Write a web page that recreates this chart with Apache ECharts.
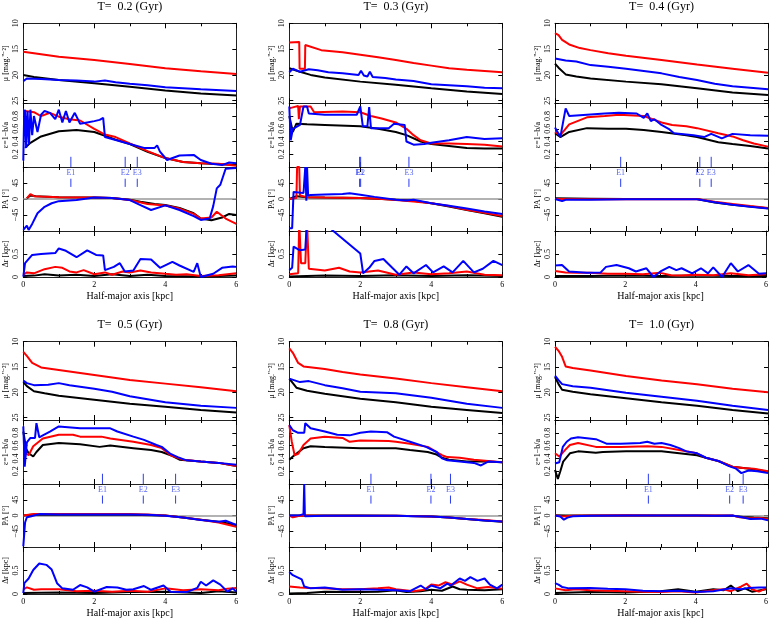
<!DOCTYPE html>
<html><head><meta charset="utf-8">
<script src="https://cdn.jsdelivr.net/npm/echarts/dist/echarts.min.js"></script>
<style>html,body{margin:0;padding:0;background:#fff}#c{width:771px;height:620px}</style>
</head><body><div id="c"></div>
<script>
// ---------------- DATA ----------------
const titles = ['T=  0.2 (Gyr)','T=  0.3 (Gyr)','T=  0.4 (Gyr)','T=  0.5 (Gyr)','T=  0.8 (Gyr)','T=  1.0 (Gyr)'];
const markerNames = ['E1','E2','E3'];
const xTickLabels = [0,2,4,6];

// T = 0.2
const mu02k = [[0,20.0],[0.3,20.4],[1,21.0],[2,21.6],[3,22.3],[4,23.0],[5,23.6],[6,24.0]];
const mu02r = [[0,15.5],[0.5,16.0],[1,16.5],[2,17.1],[3,17.9],[4,18.7],[5,19.3],[6,19.8]];
const mu02b = [[0,21.2],[0.1,20.7],[0.5,20.8],[1,21.0],[1.5,21.1],[2,21.3],[2.3,21.1],[2.6,21.4],[3,21.7],[3.5,22.0],[4,22.4],[4.5,22.6],[5,22.8],[6,23.1]];
const eps02k = [[0.05,0.3],[0.2,0.38],[0.5,0.48],[1,0.56],[1.5,0.58],[2,0.55],[2.3,0.49],[2.6,0.43],[3,0.36],[3.5,0.24],[4,0.14],[4.5,0.08],[5,0.06],[6,0.03]];
const eps02r = [[0.05,0.88],[0.3,0.86],[0.5,0.8],[0.75,0.85],[1,0.79],[1.3,0.75],[1.6,0.73],[2,0.6],[2.3,0.51],[2.6,0.47],[3,0.37],[3.5,0.25],[4,0.14],[4.5,0.08],[5,0.06],[5.5,0.05],[6,0.02]];
const eps02b = [[0,0.1],[0.02,0.7],[0.05,0.9],[0.08,0.3],[0.12,0.88],[0.16,0.35],[0.2,0.9],[0.25,0.5],[0.3,0.8],[0.4,0.55],[0.5,0.82],[0.6,0.88],[0.75,0.85],[0.9,0.75],[1.0,0.9],[1.1,0.7],[1.2,0.88],[1.3,0.7],[1.45,0.85],[1.6,0.68],[1.8,0.7],[2.0,0.72],[2.15,0.74],[2.25,0.77],[2.3,0.47],[2.5,0.44],[3,0.36],[3.4,0.3],[3.7,0.3],[3.77,0.34],[3.85,0.24],[4.05,0.11],[4.4,0.18],[4.8,0.19],[5.0,0.11],[5.3,0.05],[5.6,0.03],[5.8,0.07],[6,0.06]];
const pa02k = [[0.1,2],[0.2,10],[0.35,8],[1,5],[2,4],[2.5,3],[3,-2],[3.3,-8],[3.7,-14],[4,-17],[4.4,-25],[4.8,-40],[5,-55],[5.3,-60],[5.6,-52],[5.8,-42],[6,-45]];
const pa02r = [[0.1,2],[0.2,14],[0.3,8],[0.5,7],[1,5],[2,4],[2.5,3],[3,-3],[3.5,-14],[4,-18],[4.4,-27],[4.8,-42],[5,-55],[5.3,-52],[5.45,-36],[5.7,-55],[6,-70]];
const pa02b = [[0,-87],[0.1,-75],[0.15,-87],[0.25,-70],[0.4,-40],[0.6,-22],[0.8,-12],[1,-6],[1.5,-3],[2,4],[2.5,3],[3,-3],[3.3,-17],[3.6,-31],[4,-18],[4.4,-31],[4.8,-48],[5,-59],[5.25,-55],[5.35,-20],[5.45,30],[5.55,40],[5.7,85],[6,87]];
const dr02k = [[0,0.02],[0.3,0.03],[0.6,0.06],[1,0.03],[1.5,0.05],[2,0.02],[2.5,0.06],[3,0.02],[3.5,0.05],[4,0.02],[5,0.01],[6,0.03]];
const dr02r = [[0,0.05],[0.1,0.1],[0.3,0.08],[0.6,0.17],[0.9,0.22],[1.1,0.2],[1.3,0.12],[1.5,0.1],[1.7,0.15],[2,0.06],[2.3,0.1],[2.5,0.05],[2.8,0.12],[3,0.1],[3.3,0.14],[3.6,0.1],[4,0.07],[4.3,0.05],[4.6,0.06],[5,0.02],[5.5,0.04],[6,0.08]];
const dr02b = [[0,0.01],[0.05,0.3],[0.25,0.48],[0.5,0.5],[0.9,0.52],[1.0,0.62],[1.2,0.57],[1.5,0.43],[1.8,0.58],[2.05,0.48],[2.25,0.47],[2.3,0.15],[2.55,0.22],[2.72,0.3],[2.86,0.12],[3.1,0.14],[3.3,0.39],[3.6,0.38],[3.85,0.2],[4.2,0.33],[4.4,0.25],[4.8,0.11],[4.9,0.3],[5.0,0.0],[5.35,0.07],[5.6,0.2],[5.9,0.23],[6,0.22]];
const E02 = [1.34, 2.87, 3.21];

// T = 0.3
const mu03k = [[0,18.7],[0.3,19.4],[0.6,20.0],[1,20.5],[2,21.3],[3,21.9],[4,22.6],[5,23.2],[6,23.7]];
const mu03r = [[0,13.7],[0.28,13.6],[0.29,18.8],[0.44,18.8],[0.45,14.2],[0.9,15.2],[1.5,15.6],[2,16.1],[2.5,16.6],[3,17.1],[3.5,17.7],[4,18.2],[4.5,18.7],[5,19.0],[6,19.5]];
const mu03b = [[0,19.5],[0.1,18.8],[0.3,19.4],[0.55,18.9],[0.8,19.1],[1.1,19.5],[1.5,19.7],[1.95,20.0],[2.02,19.2],[2.1,20.1],[2.2,20.3],[2.27,19.4],[2.35,20.4],[2.7,20.6],[3,20.9],[3.5,21.2],[4,21.8],[4.5,22.0],[5,22.2],[5.5,22.5],[6,22.6]];
const eps03k = [[0,0.8],[0.1,0.55],[0.2,0.68],[0.5,0.67],[1,0.66],[2,0.64],[2.5,0.6],[3,0.55],[3.3,0.5],[3.7,0.4],[4,0.36],[4.5,0.33],[5,0.3],[5.5,0.29],[6,0.29]];
const eps03r = [[0,0.92],[0.05,0.95],[0.25,0.96],[0.27,0.75],[0.3,0.95],[0.6,0.95],[0.7,0.86],[1.5,0.87],[2,0.86],[2.3,0.8],[2.6,0.76],[3,0.7],[3.3,0.6],[3.5,0.5],[3.7,0.42],[4,0.37],[4.5,0.37],[5,0.36],[5.5,0.35],[6,0.32]];
const eps03b = [[0,0.95],[0.04,0.42],[0.1,0.6],[0.3,0.66],[0.4,0.95],[0.5,0.95],[0.55,0.84],[1,0.82],[1.9,0.82],[2,0.95],[2.07,0.64],[2.2,0.64],[2.25,0.94],[2.3,0.61],[2.8,0.61],[2.95,0.68],[3.25,0.66],[3.3,0.4],[3.5,0.35],[3.8,0.36],[4,0.38],[4.5,0.42],[5,0.47],[5.5,0.44],[6,0.45]];
const pa03k = [[0,0],[0.2,8],[0.5,5],[1,4],[2,3],[2.5,1],[3,-2],[3.5,-5],[4,-12],[4.5,-21],[5,-31],[5.5,-40],[6,-50]];
const pa03r = [[0,0],[0.2,3],[0.22,90],[0.28,90],[0.3,10],[0.5,5],[1,4],[2,3],[2.5,1],[3,-3],[3.5,-7],[4,-12],[4.5,-20],[5,-30],[5.5,-39],[6,-48]];
const pa03b = [[0,-82],[0.08,-82],[0.12,20],[0.4,17],[0.45,90],[0.48,-5],[0.5,90],[0.53,10],[0.6,11],[1,13],[1.5,14],[1.7,16],[2,12],[2.4,6],[3,-2],[3.3,-4],[3.5,-2],[4,-12],[4.5,-19],[5,-27],[5.5,-35],[6,-42]];
const dr03k = [[0,0.01],[1,0.03],[2,0.02],[3,0.04],[4,0.02],[5,0.04],[6,0.02]];
const dr03r = [[0,0.06],[0.25,0.08],[0.28,1.2],[0.33,0.3],[0.45,0.3],[0.5,1.2],[0.55,0.18],[1,0.14],[1.4,0.2],[1.7,0.12],[2,0.1],[2.5,0.14],[3,0.05],[3.5,0.1],[4,0.06],[4.5,0.08],[5,0.12],[5.5,0.05],[6,0.04]];
const dr03b = [[0,0.15],[0.08,0.2],[0.12,0.66],[0.3,0.58],[0.45,0.6],[0.5,0.62],[0.52,1.5],[0.8,1.3],[1.24,1.0],[2.0,0.51],[2.08,0.08],[2.25,0.2],[2.4,0.35],[2.65,0.39],[2.9,0.2],[3.1,0.05],[3.3,0.23],[3.5,0.08],[3.85,0.26],[4.05,0.1],[4.35,0.23],[4.6,0.1],[4.9,0.35],[5.2,0.1],[5.45,0.18],[5.75,0.35],[6,0.26]];
const E03 = [1.98, 2.01, 3.37];

// T = 0.4
const mu04k = [[0,17.8],[0.1,18.6],[0.3,19.9],[0.6,20.3],[1,20.7],[2,21.3],[3,21.8],[4,22.6],[5,23.4],[6,23.9]];
const mu04r = [[0,11.9],[0.1,12.3],[0.2,13.2],[0.4,14.1],[0.7,14.8],[1,15.2],[1.5,15.8],[2,16.3],[3,17.1],[4,18.0],[5,18.8],[6,19.6]];
const mu04b = [[0,16.8],[0.3,17.2],[0.6,17.4],[1,18.1],[1.5,18.4],[2,18.8],[3,19.7],[3.5,20.4],[4,21.0],[4.5,21.7],[5,22.2],[6,22.8]];
const eps04k = [[0,0.53],[0.15,0.47],[0.4,0.55],[0.9,0.61],[1.5,0.6],[2,0.6],[2.5,0.58],[3,0.55],[3.7,0.5],[4,0.47],[4.6,0.39],[5,0.36],[5.5,0.33],[6,0.29]];
const eps04r = [[0,0.55],[0.15,0.5],[0.4,0.67],[0.9,0.78],[1.4,0.8],[1.8,0.82],[2.5,0.8],[3,0.7],[3.3,0.66],[3.7,0.64],[4,0.61],[4.6,0.53],[5,0.48],[5.3,0.42],[5.6,0.37],[6,0.32]];
const eps04b = [[0,0.62],[0.15,0.47],[0.3,0.92],[0.4,0.8],[0.9,0.82],[1.4,0.84],[1.8,0.85],[2.3,0.84],[2.5,0.77],[2.6,0.84],[2.7,0.72],[2.8,0.75],[3,0.66],[3.2,0.6],[3.35,0.53],[3.9,0.5],[4.2,0.47],[4.4,0.52],[4.7,0.45],[5,0.52],[5.5,0.5],[6,0.49]];
const pa04k = [[0,2],[1,1],[2,0],[3,0],[4,0],[4.5,-10],[5,-16],[5.5,-21],[6,-26]];
const pa04r = [[0,0],[1,-1],[2,-1],[3,-1],[4,0],[4.5,-8],[5,-14],[5.5,-20],[6,-25]];
const pa04b = [[0,0],[0.1,-3],[0.2,-6],[0.3,-2],[1,-2],[2,-1],[3,-1],[4,-1],[4.5,-9],[5,-16],[5.5,-22],[6,-27]];
const dr04k = [[0,0.02],[1,0.02],[2,0.03],[3,0.02],[4,0.03],[5,0.02],[6,0.02]];
const dr04r = [[0,0.13],[0.3,0.1],[0.6,0.09],[1,0.09],[1.5,0.07],[2,0.07],[2.5,0.06],[3,0.09],[3.3,0.04],[3.6,0.03],[4,0.05],[4.5,0.04],[5,0.08],[5.5,0.04],[6,0.06]];
const dr04b = [[0,0.25],[0.2,0.26],[0.4,0.12],[0.9,0.09],[1.3,0.1],[1.45,0.22],[1.75,0.26],[2.1,0.19],[2.3,0.12],[2.6,0.19],[2.8,0.0],[3.0,0.12],[3.25,0.22],[3.45,0.15],[3.6,0.19],[3.9,0.08],[4.15,0.19],[4.35,0.08],[4.5,0.21],[4.75,0.0],[5.0,0.3],[5.2,0.12],[5.5,0.26],[5.8,0.07],[6,0.08]];
const E04 = [1.85, 4.08, 4.40];

// T = 0.5
const mu05k = [[0,18.0],[0.1,18.8],[0.3,19.8],[0.6,20.2],[1,20.7],[2,21.5],[3,22.3],[4,22.9],[5,23.5],[6,24.0]];
const mu05r = [[0,12.0],[0.1,12.8],[0.25,14.2],[0.5,15.1],[1,15.6],[1.5,16.1],[2,16.6],[3,17.6],[4,18.3],[5,19.0],[6,19.8]];
const mu05b = [[0,17.7],[0.1,18.2],[0.3,18.6],[0.7,18.5],[1,18.2],[1.3,18.6],[2,19.3],[2.5,19.9],[3,20.8],[3.5,21.4],[4,22.0],[5,22.7],[6,23.1]];
const eps05k = [[0,0.82],[0.08,0.55],[0.15,0.48],[0.28,0.43],[0.37,0.5],[0.55,0.61],[1,0.64],[1.6,0.62],[2.15,0.58],[2.45,0.6],[3.1,0.56],[3.6,0.53],[3.9,0.5],[4.15,0.45],[4.4,0.38],[5,0.35],[5.5,0.33],[6,0.28]];
const eps05r = [[0,0.5],[0.15,0.45],[0.28,0.59],[0.55,0.71],[1,0.77],[1.4,0.77],[1.6,0.74],[2.2,0.74],[2.45,0.71],[3.1,0.66],[3.6,0.61],[3.9,0.56],[4.15,0.45],[4.35,0.41],[4.5,0.38],[5,0.35],[5.5,0.33],[6,0.28]];
const eps05b = [[0,0.9],[0.04,0.27],[0.1,0.65],[0.2,0.72],[0.33,0.72],[0.37,0.95],[0.45,0.73],[0.55,0.76],[0.75,0.82],[1,0.9],[1.6,0.87],[2.45,0.87],[2.65,0.82],[3.1,0.74],[3.4,0.69],[3.75,0.61],[3.9,0.58],[4.15,0.47],[4.35,0.42],[4.6,0.37],[5,0.35],[5.5,0.33],[6,0.3]];
const pa05k = [[0,0],[0.3,3],[1,2],[2,2],[3,2],[4,0],[4.5,-6],[5,-12],[5.5,-18],[6,-27]];
const pa05r = [[0,0],[0.3,4],[1,4],[2,4],[3,4],[3.5,3],[4,0],[4.5,-6],[5,-12],[5.5,-20],[6,-32]];
const pa05b = [[0,-88],[0.05,-20],[0.1,-5],[0.2,-3],[0.3,0],[0.45,4],[1,3],[2,3],[3,3],[3.5,2],[4,-1],[4.5,-6],[5,-13],[5.5,-18],[5.7,-15],[6,-27]];
const dr05k = [[0,0.02],[1,0.03],[2,0.02],[3,0.04],[4,0.05],[5,0.02],[5.5,0.06],[6,0.03]];
const dr05r = [[0,0.1],[0.1,0.14],[0.3,0.09],[0.5,0.1],[1,0.1],[1.5,0.06],[2,0.07],[2.5,0.05],[3,0.07],[3.5,0.05],[4,0.12],[4.5,0.08],[5,0.1],[5.5,0.08],[5.75,0.11],[6,0.13]];
const dr05b = [[0,0.02],[0.03,0.23],[0.15,0.33],[0.28,0.51],[0.45,0.65],[0.65,0.62],[0.8,0.52],[0.95,0.23],[1.1,0.12],[1.4,0.09],[1.6,0.19],[1.8,0.14],[2,0.05],[2.35,0.15],[2.65,0.14],[2.9,0.09],[3.1,0.1],[3.4,0.17],[3.6,0.09],[3.95,0.18],[4.15,0.05],[4.6,0.04],[4.9,0.13],[5.0,0.26],[5.15,0.18],[5.35,0.29],[5.55,0.2],[5.75,0.05],[5.9,0.12],[6,0.05]];
const E05 = [2.23, 3.38, 4.29];

// T = 0.8
const mu08k = [[0,17.3],[0.1,18.2],[0.2,19.1],[0.5,19.7],[1,20.3],[2,21.3],[3,22.0],[4,22.9],[5,23.5],[6,24.1]];
const mu08r = [[0,11.3],[0.1,12.2],[0.25,14.2],[0.4,14.9],[1,15.4],[1.5,16.0],[2,16.5],[3,17.3],[4,18.2],[5,19.0],[6,19.8]];
const mu08b = [[0,17.3],[0.3,18.0],[0.55,17.8],[1,18.6],[1.5,19.2],[2,19.9],[3,20.2],[4,21.1],[5,22.3],[6,23.1]];
const eps08k = [[0,0.38],[0.1,0.43],[0.15,0.4],[0.4,0.56],[0.6,0.59],[1,0.58],[2,0.56],[3,0.56],[3.4,0.53],[3.9,0.5],[4.15,0.46],[4.3,0.41],[4.5,0.38],[5,0.35],[5.5,0.35],[6,0.34]];
const eps08r = [[0,0.92],[0.07,0.66],[0.15,0.45],[0.25,0.47],[0.4,0.61],[0.6,0.71],[1,0.74],[1.5,0.72],[1.7,0.66],[2,0.68],[2.8,0.67],[3,0.66],[3.4,0.63],[3.9,0.58],[4.15,0.5],[4.3,0.45],[4.45,0.42],[4.8,0.41],[5.2,0.38],[5.6,0.36],[6,0.34]];
const eps08b = [[0,0.92],[0.1,0.84],[0.25,0.8],[0.42,0.8],[0.45,0.95],[0.6,0.87],[1,0.82],[1.35,0.77],[1.7,0.76],[2,0.8],[2.3,0.82],[2.75,0.81],[2.95,0.74],[3.4,0.66],[3.85,0.58],[4.15,0.5],[4.3,0.4],[4.45,0.37],[4.8,0.35],[5.2,0.33],[5.4,0.29],[5.6,0.35],[6,0.34]];
const pa08k = [[0,0],[0.3,0],[1,0],[2,0],[3,-1],[4,-3],[4.5,-6],[5,-10],[5.5,-14],[6,-18]];
const pa08r = [[0,0],[0.1,-5],[0.2,-3],[0.3,0],[1,-1],[2,-1],[3,-1],[4,-3],[4.5,-6],[5,-10],[5.5,-13],[6,-17]];
const pa08b = [[0,0],[0.3,1],[0.4,4],[0.42,90],[0.44,-2],[1,-1],[2,-1],[3,-1],[3.5,-2],[4,-3],[4.5,-6],[5,-10],[5.5,-14],[6,-17]];
const dr08k = [[0,0.01],[0.5,0.02],[1,0.05],[2,0.04],[2.5,0.05],[3,0.08],[3.3,0.04],[3.7,0.06],[4,0.09],[4.3,0.07],[4.6,0.16],[4.8,0.1],[5,0.09],[5.5,0.08],[6,0.1]];
const dr08r = [[0,0.16],[0.3,0.14],[0.6,0.13],[1,0.12],[1.5,0.1],[2,0.1],[2.5,0.12],[2.8,0.14],[3,0.1],[3.5,0.06],[3.8,0.09],[4,0.2],[4.2,0.18],[4.4,0.25],[4.6,0.2],[4.8,0.27],[5,0.2],[5.3,0.12],[5.6,0.15],[6,0.11]];
const dr08b = [[0,0.47],[0.1,0.4],[0.35,0.31],[0.42,0.16],[0.6,0.12],[1,0.14],[1.5,0.09],[2,0.1],[2.5,0.09],[3,0.08],[3.4,0.06],[3.7,0.18],[3.85,0.1],[4,0.18],[4.25,0.12],[4.45,0.22],[4.55,0.18],[4.8,0.33],[4.95,0.28],[5.1,0.36],[5.3,0.28],[5.5,0.33],[5.65,0.2],[5.85,0.12],[6,0.2]];
const E08 = [2.30, 3.99, 4.54];

// T = 1.0
const mu10k = [[0,17.0],[0.1,18.4],[0.2,19.5],[0.5,19.9],[1,20.4],[2,21.2],[3,22.0],[4,22.7],[5,23.5],[6,24.2]];
const mu10r = [[0,11.0],[0.1,11.8],[0.2,13.0],[0.3,14.9],[0.5,15.2],[1,15.7],[2,16.8],[3,17.7],[4,18.4],[5,19.3],[6,20.0]];
const mu10b = [[0,16.7],[0.1,17.6],[0.2,18.4],[0.5,18.8],[1,19.1],[2,20.1],[3,20.9],[4,21.7],[5,22.7],[6,23.5]];
const eps10k = [[0,0.22],[0.08,0.08],[0.15,0.2],[0.23,0.35],[0.42,0.48],[0.65,0.51],[1.15,0.49],[1.35,0.5],[2,0.51],[3,0.51],[3.5,0.48],[4,0.45],[4.25,0.41],[4.6,0.36],[5,0.27],[5.3,0.25],[5.6,0.23],[6,0.19]];
const eps10r = [[0,0.48],[0.12,0.43],[0.28,0.53],[0.42,0.61],[0.65,0.64],[1.15,0.58],[1.85,0.58],[2.6,0.59],[3,0.58],[3.5,0.53],[4,0.48],[4.25,0.41],[4.6,0.36],[5,0.27],[5.3,0.25],[5.6,0.24],[6,0.2]];
const eps10b = [[0,0.32],[0.12,0.34],[0.22,0.58],[0.33,0.66],[0.45,0.71],[0.65,0.73],[1.15,0.7],[1.45,0.63],[1.85,0.63],[2.4,0.64],[2.6,0.66],[2.8,0.63],[3,0.64],[3.25,0.61],[3.5,0.56],[3.7,0.51],[4,0.48],[4.25,0.41],[4.6,0.36],[4.9,0.28],[5.1,0.24],[5.25,0.17],[5.45,0.21],[5.7,0.2],[6,0.17]];
const pa10k = [[0,1],[0.3,0],[1,0],[2,0],[3,0],[4,0],[5,-1],[5.3,-4],[5.6,-6],[6,-8]];
const pa10r = [[0,1],[0.2,-3],[0.5,-1],[1,0],[2,1],[3,0],[4,0],[5,0],[5.2,-5],[5.5,-8],[5.8,-7],[6,-10]];
const pa10b = [[0,0],[0.15,-3],[0.25,-12],[0.35,-6],[0.5,-2],[1,-1],[2,0],[3,0],[4,0],[4.5,-1],[5,0],[5.3,-6],[5.5,-10],[5.8,-9],[6,-14]];
const dr10k = [[0,0.02],[0.5,0.03],[1,0.04],[2,0.03],[3,0.06],[3.5,0.1],[4,0.05],[4.5,0.1],[4.8,0.08],[5,0.18],[5.2,0.06],[5.4,0.12],[5.6,0.05],[6,0.1]];
const dr10r = [[0,0.12],[0.3,0.08],[0.6,0.1],[1,0.08],[1.5,0.07],[2,0.06],[2.5,0.05],[3,0.04],[3.5,0.06],[4,0.03],[4.5,0.08],[4.8,0.1],[5,0.06],[5.3,0.16],[5.45,0.22],[5.6,0.1],[5.8,0.05],[6,0.12]];
const dr10b = [[0,0.23],[0.1,0.2],[0.2,0.15],[0.4,0.12],[1,0.13],[1.5,0.11],[2,0.1],[2.5,0.07],[3,0.06],[3.5,0.07],[4,0.04],[4.5,0.06],[5,0.12],[5.3,0.1],[5.5,0.13],[5.8,0.14],[6,0.14]];
const E10 = [2.63, 4.92, 5.30];

// ---------------- BUILD ----------------
const panels = [
  {title:titles[0], mu:[mu02k,mu02r,mu02b], eps:[eps02k,eps02r,eps02b], pa:[pa02k,pa02r,pa02b], dr:[dr02k,dr02r,dr02b], E:E02},
  {title:titles[1], mu:[mu03k,mu03r,mu03b], eps:[eps03k,eps03r,eps03b], pa:[pa03k,pa03r,pa03b], dr:[dr03k,dr03r,dr03b], E:E03},
  {title:titles[2], mu:[mu04k,mu04r,mu04b], eps:[eps04k,eps04r,eps04b], pa:[pa04k,pa04r,pa04b], dr:[dr04k,dr04r,dr04b], E:E04},
  {title:titles[3], mu:[mu05k,mu05r,mu05b], eps:[eps05k,eps05r,eps05b], pa:[pa05k,pa05r,pa05b], dr:[dr05k,dr05r,dr05b], E:E05},
  {title:titles[4], mu:[mu08k,mu08r,mu08b], eps:[eps08k,eps08r,eps08b], pa:[pa08k,pa08r,pa08b], dr:[dr08k,dr08r,dr08b], E:E08},
  {title:titles[5], mu:[mu10k,mu10r,mu10b], eps:[eps10k,eps10r,eps10b], pa:[pa10k,pa10r,pa10b], dr:[dr10k,dr10r,dr10b], E:E10}
];

const FONT = 'Liberation Serif';
const cols = [23.3, 289.3, 555];
const PW = 213;
const rows = [
  [[23.3,80],[103.3,63.7],[167,64],[231,46]],
  [[341.7,78.3],[420,64],[484,63],[547,47]]
];
const titleTop = [1, 319];
const colors = ['#000000','#ff0000','#0000ff'];
const markColor = '#2a3cf0';
const quantities = [
  {key:'mu', name:"μ [mag.''⁻²]", min:10, max:25.5, interval:5, inverse:true, labels:[10,15,20,25], fmt:v=>String(v)},
  {key:'eps', name:'ε=1−b/a', min:0, max:1, interval:0.2, labels:[0.2,0.4,0.6,0.8], fmt:v=>v.toFixed(1)},
  {key:'pa', name:'PA [°]', min:-90, max:90, interval:45, labels:[-45,0,45], fmt:v=>v<0?'−'+Math.abs(v):String(v)},
  {key:'dr', name:'Δr [kpc]', min:0, max:1, interval:0.5, labels:[0,0.5], fmt:v=>String(v)}
];

const grid=[], xAxis=[], yAxis=[], series=[], title=[];
const axisLineStyle = {color:'#222', width:1};

panels.forEach((p, pi) => {
  const col = pi % 3, row = Math.floor(pi / 3);
  const left = cols[col];
  title.push({text:p.title, left:left + PW/2, top:titleTop[row], textAlign:'center', padding:0,
    textStyle:{fontFamily:FONT, fontSize:12, fontWeight:'normal', color:'#000'}});
  const gIdx = {};
  quantities.forEach((q, qi) => {
    const g = grid.length;
    gIdx[q.key] = g;
    const [top, h] = rows[row][qi];
    grid.push({left:left, top:top, width:PW, height:h});
    const isBottom = qi === 3;
    const xBase = {type:'value', gridIndex:g, min:0, max:6, interval:2,
      axisLine:{show:true, onZero:false, lineStyle:axisLineStyle},
      axisTick:{show:true, inside:true, length:5, lineStyle:{color:'#000', width:1}},
      minorTick:{show:true, splitNumber:2, length:3, lineStyle:{color:'#000', width:1}},
      splitLine:{show:false}, minorSplitLine:{show:false}};
    xAxis.push(Object.assign({}, xBase, {position:'bottom',
      axisLabel:{show:isBottom, fontFamily:FONT, fontSize:8, color:'#000', margin:4,
        formatter:v=>xTickLabels.indexOf(v)>=0?String(v):''},
      name:isBottom?'Half-major axis [kpc]':'', nameLocation:'middle', nameGap:14,
      nameTextStyle:{fontFamily:FONT, fontSize:10, color:'#000'}}));
    xAxis.push(Object.assign({}, xBase, {position:'top', axisLabel:{show:false}}));
    const yBase = {type:'value', gridIndex:g, min:q.min, max:q.max, interval:q.interval, inverse:!!q.inverse,
      axisLine:{show:true, onZero:false, lineStyle:axisLineStyle},
      axisTick:{show:true, inside:true, length:4, lineStyle:{color:'#000', width:1}},
      splitLine:{show:false}};
    yAxis.push(Object.assign({}, yBase, {position:'left', name:q.name, nameLocation:'middle', nameGap:13, nameRotate:90,
      nameTextStyle:{fontFamily:FONT, fontSize:8, color:'#000'},
      axisLabel:{show:true, rotate:90, margin:3, fontFamily:FONT, fontSize:8, color:'#000',
        formatter:v=>q.labels.some(l=>Math.abs(l-v)<1e-6)?q.fmt(v):''}}));
    yAxis.push(Object.assign({}, yBase, {position:'right', axisLabel:{show:false}}));

    p[q.key].forEach((d, ci) => {
      const s = {type:'line', xAxisIndex:2*g, yAxisIndex:2*g, data:d, symbol:'none', showSymbol:false,
        lineStyle:{color:colors[ci], width:2}, itemStyle:{color:colors[ci]}, z:3+ci, silent:true, clip:true};
      if (q.key === 'pa' && ci === 0) {
        s.markLine = {silent:true, symbol:'none', label:{show:false}, z:1,
          lineStyle:{color:'#999', width:1.5, type:'solid'}, data:[{yAxis:0}]};
      }
      series.push(s);
    });
  });
  // marker lines E1, E2, E3
  p.E.forEach((e, ei) => {
    series.push({type:'line', xAxisIndex:2*gIdx.eps, yAxisIndex:2*gIdx.eps, data:[[e,0],[e,0.16]],
      symbol:'none', lineStyle:{color:markColor, width:1}, z:6, silent:true});
    series.push({type:'line', xAxisIndex:2*gIdx.pa, yAxisIndex:2*gIdx.pa, data:[[e,34],[e,57]],
      symbol:'none', lineStyle:{color:markColor, width:1}, z:6, silent:true});
    series.push({type:'scatter', xAxisIndex:2*gIdx.pa, yAxisIndex:2*gIdx.pa,
      data:[{name:markerNames[ei], value:[e,73]}], symbol:'circle', symbolSize:2,
      itemStyle:{color:'rgba(255,255,255,0)'},
      label:{show:true, position:'inside', formatter:'{b}', fontFamily:FONT, fontSize:8, color:markColor},
      labelLayout:{hideOverlap:false}, z:7, silent:true});
  });
});

const chart = echarts.init(document.getElementById('c'), null, {renderer:'canvas'});
chart.setOption({animation:false, backgroundColor:'#fff', textStyle:{fontFamily:FONT},
  title:title, grid:grid, xAxis:xAxis, yAxis:yAxis, series:series});
</script></body></html>
